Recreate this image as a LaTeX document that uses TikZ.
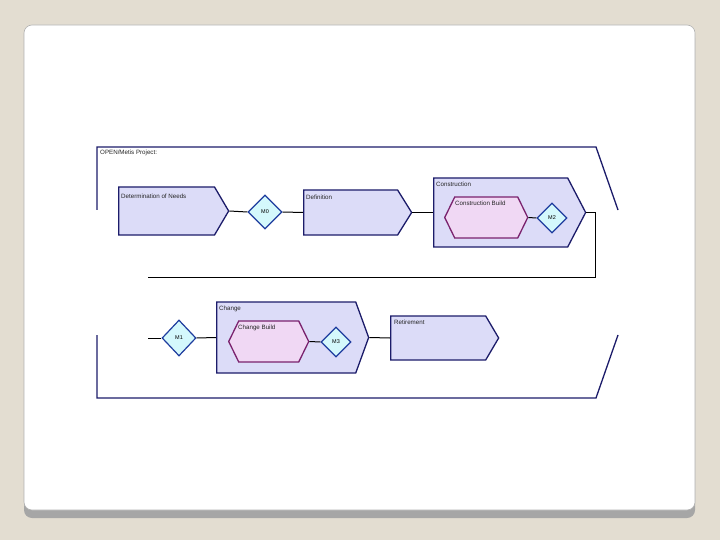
\documentclass[tikz,border=0pt]{standalone}
\usepackage{fontspec}
\setmainfont{Liberation Sans}
\usetikzlibrary{shapes.symbols,shapes.geometric,positioning}
\definecolor{slide}{HTML}{E3DDD1}
\definecolor{navy}{HTML}{1C1C6A}
\definecolor{lav}{HTML}{DCDCF8}
\definecolor{pinkfill}{HTML}{F0D8F4}
\definecolor{plum}{HTML}{7A226E}
\definecolor{aqua}{HTML}{D4F8FC}
\definecolor{msblue}{HTML}{1E3C9E}
\tikzset{
  stage/.style={signal, signal to=east, draw=navy, fill=lav, line width=1.3pt,
    inner sep=0pt, anchor=west},
  build/.style={signal, signal to=east and west, draw=plum, fill=pinkfill,
    line width=1.3pt, inner sep=0pt, anchor=west, signal pointer angle=128},
  mstone/.style={diamond, draw=msblue, fill=aqua, line width=1.2pt, inner sep=0pt,
    font=\fontsize{5.5}{6.5}\selectfont},
  lbl/.style={font=\fontsize{6.2}{7}\selectfont, text=black!85, inner sep=0pt},
  link/.style={draw=black, line width=1pt}
}
\begin{document}
\begin{tikzpicture}[x=1pt,y=-1pt]
\useasboundingbox (0,0) rectangle (720,540);
% slide card
\fill[slide] (0,0) rectangle (720,540);
\fill[black!35] (24,30) [rounded corners=8pt] rectangle (695,518);
\fill[white, draw=black!30, line width=0.6pt] (24,25) [rounded corners=8pt] rectangle (695,510);
% project frame
\draw[navy, line width=1.3pt] (97,210) -- (97,147) -- (596,147) -- (618,210);
\draw[navy, line width=1.3pt] (97,335) -- (97,398) -- (596,398) -- (618,335);
\node[lbl, anchor=north west] (proj) at (100,150) {OPEN/Metis Project:};
% upper row
\node[stage, minimum width=110, minimum height=48, signal pointer angle=119] (don) at (118,211) {};
\node[mstone, minimum width=34, minimum height=34] (m0) at (265,212) {M0};
\node[stage, minimum width=108, minimum height=45, signal pointer angle=116] (def) at (303,212.5) {};
\node[stage, minimum width=152, minimum height=69, signal pointer angle=125] (con) at (433,212.5) {};
\node[build, minimum width=83, minimum height=41] (cb) at (444,217.5) {};
\node[mstone, minimum width=30, minimum height=30] (m2) at (552,218) {M2};
% lower row
\node[mstone, minimum width=34, minimum height=36] (m1) at (179,338) {M1};
\node[stage, minimum width=152, minimum height=71, signal pointer angle=140] (chg) at (216,337.5) {};
\node[build, minimum width=80, minimum height=41] (chgb) at (228,341.5) {};
\node[mstone, minimum width=30, minimum height=30] (m3) at (336,342) {M3};
\node[stage, minimum width=108, minimum height=44, signal pointer angle=119] (ret) at (390,338) {};
% labels
\node[lbl, below right=7pt and 3pt of don.north west, anchor=north west] (donT) {Determination of Needs};
\node[lbl, below right=5pt and 3pt of def.north west, anchor=north west] (defT) {Definition};
\node[lbl, below right=4pt and 3pt of con.north west, anchor=north west] (conT) {Construction};
\node[lbl, anchor=north west] (cbT) at (455,201) {Construction Build};
\node[lbl, below right=4pt and 3pt of chg.north west, anchor=north west] (chgT) {Change};
\node[lbl, anchor=north west] (chgbT) at (238,325) {Change Build};
\node[lbl, below right=4pt and 4pt of ret.north west, anchor=north west] (retT) {Retirement};
% connectors
\coordinate (wrapout) at (148,277);
\coordinate (wrapin) at (148,338);
\draw[link] (don.east) -- (m0.west);
\draw[link] (m0.east) -- (def.west);
\draw[link] (def.east) -- (con.west);
\draw[link] (cb.east) -- (m2.west);
\draw[link] (con.east) -- ++(9,0) |- (wrapout);
\draw[link] (wrapin) -- (m1.west);
\draw[link] (m1.east) -- (chg.west);
\draw[link] (chgb.east) -- (m3.west);
\draw[link] (chg.east) -- (ret.west);
\end{tikzpicture}
\end{document}
